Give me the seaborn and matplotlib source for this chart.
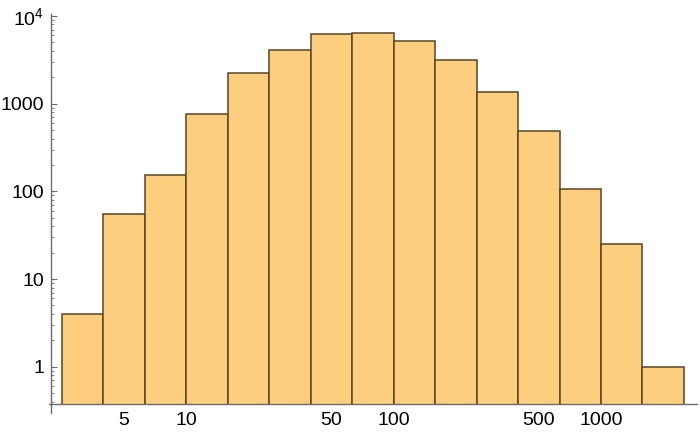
"""
Log-log histogram, counts per 0.2-decade bin.
"""
import matplotlib
matplotlib.use("Agg")
import matplotlib.pyplot as plt
import matplotlib.ticker as mticker
import numpy as np
import seaborn as sns

# bin edges in log10 units (0.2 decade wide), counts
log_edges = [0.4, 0.6, 0.8, 1.0, 1.2, 1.4, 1.6, 1.8, 2.0, 2.2, 2.4, 2.6, 2.8, 3.0, 3.2, 3.4]
counts = [4, 55, 153, 755, 2215, 4050, 6170, 6340, 5130, 3120, 1345, 483, 105, 25, 1]

x_ticks = [5, 10, 50, 100, 500, 1000]
y_ticks = [1, 10, 100, 1000, 10000]
y_labels = ["1", "10", "100", "1000", r"$\mathregular{10^4}$"]

FILL = "#FCCE7E"
EDGE = "#574526"
AXIS = "#6b6b6b"

sns.set_theme(style="white")
plt.rcParams["font.family"] = ["Liberation Sans", "DejaVu Sans"]
plt.rcParams["mathtext.fontset"] = "custom"
plt.rcParams["mathtext.rm"] = "Liberation Sans"

fig = plt.figure(figsize=(7, 4.4), dpi=100)
ax = fig.add_axes([51 / 700, 36 / 440, 646 / 700, 390 / 440])

centers = [10 ** ((a + b) / 2) for a, b in zip(log_edges[:-1], log_edges[1:])]
sns.histplot(
    x=centers,
    weights=counts,
    bins=log_edges,
    log_scale=(True, False),
    color=FILL,
    edgecolor=EDGE,
    linewidth=1.1,
    alpha=1,
    ax=ax,
)
ax.set_yscale("log")

ax.set_xlim(10 ** 0.347, 10 ** 3.463)
ax.set_ylim(10 ** -0.4254, 10 ** 4.0228)

ax.xaxis.set_major_locator(mticker.FixedLocator(x_ticks))
ax.xaxis.set_major_formatter(mticker.FixedFormatter([str(t) for t in x_ticks]))
ax.xaxis.set_minor_locator(mticker.LogLocator(base=10, subs=(2, 3, 4, 6, 7, 8, 9)))
ax.xaxis.set_minor_formatter(mticker.NullFormatter())

ax.yaxis.set_major_locator(mticker.FixedLocator(y_ticks))
ax.yaxis.set_major_formatter(mticker.FixedFormatter(y_labels))
ax.yaxis.set_minor_locator(mticker.LogLocator(base=10, subs=(2, 3, 4, 5, 6, 7, 8, 9)))
ax.yaxis.set_minor_formatter(mticker.NullFormatter())

ax.set_xlabel("")
ax.set_ylabel("")

for side in ["top", "right"]:
    ax.spines[side].set_visible(False)
for side in ["left", "bottom"]:
    ax.spines[side].set_color(AXIS)
    ax.spines[side].set_linewidth(1.0)
    ax.spines[side].set_zorder(5)

ax.tick_params(axis="both", which="major", direction="in", length=4, width=0.8,
               color=AXIS, labelsize=14, labelcolor="black")
ax.tick_params(axis="both", which="minor", direction="in", length=2, width=0.6,
               color=AXIS)
ax.tick_params(axis="x", which="major", pad=6, bottom=True)
ax.tick_params(axis="x", which="minor", bottom=True)
ax.tick_params(axis="y", which="major", pad=5, left=True)
ax.tick_params(axis="y", which="minor", left=True)

# small overhang of the axes past their crossing point, as in the original
ax.plot([0, 0], [-0.023, 0], transform=ax.transAxes, color=AXIS, lw=1.0, clip_on=False)
ax.plot([-0.003, 0], [0, 0], transform=ax.transAxes, color=AXIS, lw=1.0, clip_on=False)

fig.savefig("out.png", dpi=100)
